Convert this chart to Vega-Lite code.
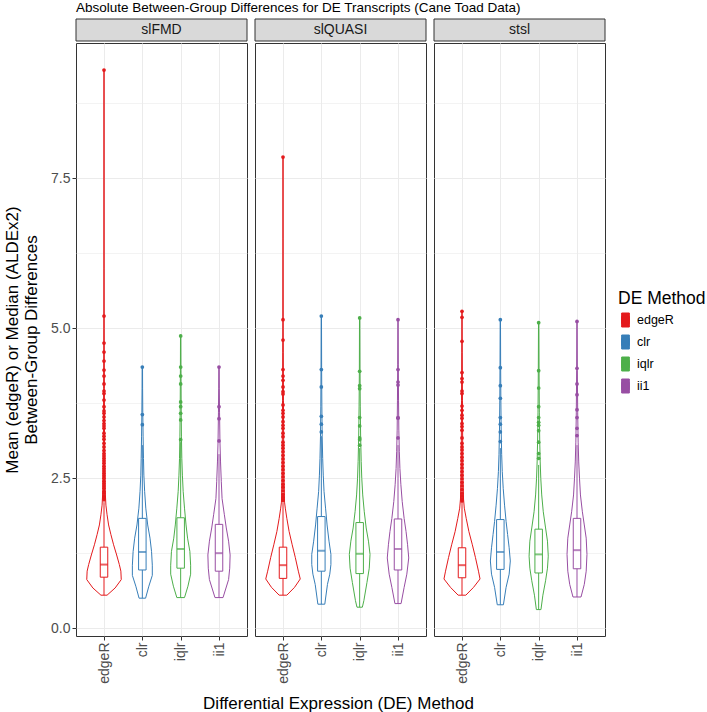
{
"$schema":"https://vega.github.io/schema/vega-lite/v6.json",
"title":{"text":"Absolute Between-Group Differences for DE Transcripts (Cane Toad Data)","anchor":"start","frame":"group","fontSize":13.5,"fontWeight":"normal","color":"#000000","offset":4},
"padding":{"left":3,"top":1,"right":5,"bottom":0},
"datasets":{
"vio":[
{"p":"slFMD","m":"edgeR","v":0.55,"w":0.08},{"p":"slFMD","m":"edgeR","v":0.67,"w":0.29},{"p":"slFMD","m":"edgeR","v":0.81,"w":0.45},{"p":"slFMD","m":"edgeR","v":0.95,"w":0.44},{"p":"slFMD","m":"edgeR","v":1.06,"w":0.40},{"p":"slFMD","m":"edgeR","v":1.22,"w":0.33},{"p":"slFMD","m":"edgeR","v":1.39,"w":0.25},{"p":"slFMD","m":"edgeR","v":1.56,"w":0.18},{"p":"slFMD","m":"edgeR","v":1.72,"w":0.12},{"p":"slFMD","m":"edgeR","v":1.89,"w":0.08},{"p":"slFMD","m":"edgeR","v":2.05,"w":0.05},{"p":"slFMD","m":"edgeR","v":2.3,"w":0.03},{"p":"slFMD","m":"edgeR","v":2.7,"w":0.02},{"p":"slFMD","m":"edgeR","v":3.2,"w":0.014},{"p":"slFMD","m":"edgeR","v":4.0,"w":0.01},{"p":"slFMD","m":"edgeR","v":5.0,"w":0.006},{"p":"slFMD","m":"edgeR","v":6.0,"w":0.003},{"p":"slFMD","m":"edgeR","v":7.5,"w":0.002},{"p":"slFMD","m":"edgeR","v":9.3,"w":0.002},
{"p":"slFMD","m":"clr","v":0.50,"w":0.085},{"p":"slFMD","m":"clr","v":0.7,"w":0.17},{"p":"slFMD","m":"clr","v":0.88,"w":0.26},{"p":"slFMD","m":"clr","v":1.05,"w":0.26},{"p":"slFMD","m":"clr","v":1.28,"w":0.24},{"p":"slFMD","m":"clr","v":1.5,"w":0.20},{"p":"slFMD","m":"clr","v":1.72,"w":0.14},{"p":"slFMD","m":"clr","v":2.0,"w":0.09},{"p":"slFMD","m":"clr","v":2.28,"w":0.06},{"p":"slFMD","m":"clr","v":2.55,"w":0.04},{"p":"slFMD","m":"clr","v":2.83,"w":0.03},{"p":"slFMD","m":"clr","v":3.2,"w":0.02},{"p":"slFMD","m":"clr","v":3.6,"w":0.012},{"p":"slFMD","m":"clr","v":4.0,"w":0.007},{"p":"slFMD","m":"clr","v":4.35,"w":0.005},
{"p":"slFMD","m":"iqlr","v":0.51,"w":0.10},{"p":"slFMD","m":"iqlr","v":0.7,"w":0.19},{"p":"slFMD","m":"iqlr","v":0.9,"w":0.26},{"p":"slFMD","m":"iqlr","v":1.05,"w":0.26},{"p":"slFMD","m":"iqlr","v":1.28,"w":0.24},{"p":"slFMD","m":"iqlr","v":1.5,"w":0.18},{"p":"slFMD","m":"iqlr","v":1.72,"w":0.14},{"p":"slFMD","m":"iqlr","v":2.0,"w":0.10},{"p":"slFMD","m":"iqlr","v":2.28,"w":0.065},{"p":"slFMD","m":"iqlr","v":2.55,"w":0.045},{"p":"slFMD","m":"iqlr","v":2.83,"w":0.03},{"p":"slFMD","m":"iqlr","v":3.2,"w":0.02},{"p":"slFMD","m":"iqlr","v":3.7,"w":0.012},{"p":"slFMD","m":"iqlr","v":4.3,"w":0.007},{"p":"slFMD","m":"iqlr","v":4.87,"w":0.004},
{"p":"slFMD","m":"ii1","v":0.51,"w":0.105},{"p":"slFMD","m":"ii1","v":0.81,"w":0.25},{"p":"slFMD","m":"ii1","v":1.0,"w":0.28},{"p":"slFMD","m":"ii1","v":1.22,"w":0.29},{"p":"slFMD","m":"ii1","v":1.45,"w":0.25},{"p":"slFMD","m":"ii1","v":1.67,"w":0.19},{"p":"slFMD","m":"ii1","v":1.89,"w":0.14},{"p":"slFMD","m":"ii1","v":2.16,"w":0.08},{"p":"slFMD","m":"ii1","v":2.44,"w":0.06},{"p":"slFMD","m":"ii1","v":2.77,"w":0.04},{"p":"slFMD","m":"ii1","v":3.1,"w":0.025},{"p":"slFMD","m":"ii1","v":3.6,"w":0.014},{"p":"slFMD","m":"ii1","v":4.0,"w":0.008},{"p":"slFMD","m":"ii1","v":4.35,"w":0.005},
{"p":"slQUASI","m":"edgeR","v":0.55,"w":0.10},{"p":"slQUASI","m":"edgeR","v":0.68,"w":0.30},{"p":"slQUASI","m":"edgeR","v":0.82,"w":0.45},{"p":"slQUASI","m":"edgeR","v":0.95,"w":0.40},{"p":"slQUASI","m":"edgeR","v":1.18,"w":0.32},{"p":"slQUASI","m":"edgeR","v":1.39,"w":0.24},{"p":"slQUASI","m":"edgeR","v":1.61,"w":0.16},{"p":"slQUASI","m":"edgeR","v":1.83,"w":0.10},{"p":"slQUASI","m":"edgeR","v":2.0,"w":0.06},{"p":"slQUASI","m":"edgeR","v":2.1,"w":0.04},{"p":"slQUASI","m":"edgeR","v":2.5,"w":0.025},{"p":"slQUASI","m":"edgeR","v":3.0,"w":0.018},{"p":"slQUASI","m":"edgeR","v":3.8,"w":0.012},{"p":"slQUASI","m":"edgeR","v":4.6,"w":0.008},{"p":"slQUASI","m":"edgeR","v":5.2,"w":0.005},{"p":"slQUASI","m":"edgeR","v":6.5,"w":0.002},{"p":"slQUASI","m":"edgeR","v":7.85,"w":0.002},
{"p":"slQUASI","m":"clr","v":0.40,"w":0.09},{"p":"slQUASI","m":"clr","v":0.73,"w":0.16},{"p":"slQUASI","m":"clr","v":0.90,"w":0.22},{"p":"slQUASI","m":"clr","v":1.06,"w":0.25},{"p":"slQUASI","m":"clr","v":1.23,"w":0.25},{"p":"slQUASI","m":"clr","v":1.45,"w":0.20},{"p":"slQUASI","m":"clr","v":1.72,"w":0.15},{"p":"slQUASI","m":"clr","v":2.0,"w":0.11},{"p":"slQUASI","m":"clr","v":2.28,"w":0.07},{"p":"slQUASI","m":"clr","v":2.55,"w":0.05},{"p":"slQUASI","m":"clr","v":2.83,"w":0.035},{"p":"slQUASI","m":"clr","v":3.2,"w":0.022},{"p":"slQUASI","m":"clr","v":3.7,"w":0.014},{"p":"slQUASI","m":"clr","v":4.3,"w":0.008},{"p":"slQUASI","m":"clr","v":5.2,"w":0.004},
{"p":"slQUASI","m":"iqlr","v":0.35,"w":0.07},{"p":"slQUASI","m":"iqlr","v":0.46,"w":0.11},{"p":"slQUASI","m":"iqlr","v":0.76,"w":0.19},{"p":"slQUASI","m":"iqlr","v":1.0,"w":0.25},{"p":"slQUASI","m":"iqlr","v":1.23,"w":0.27},{"p":"slQUASI","m":"iqlr","v":1.45,"w":0.23},{"p":"slQUASI","m":"iqlr","v":1.67,"w":0.17},{"p":"slQUASI","m":"iqlr","v":1.94,"w":0.12},{"p":"slQUASI","m":"iqlr","v":2.22,"w":0.08},{"p":"slQUASI","m":"iqlr","v":2.5,"w":0.055},{"p":"slQUASI","m":"iqlr","v":2.78,"w":0.04},{"p":"slQUASI","m":"iqlr","v":3.2,"w":0.025},{"p":"slQUASI","m":"iqlr","v":3.7,"w":0.015},{"p":"slQUASI","m":"iqlr","v":4.3,"w":0.008},{"p":"slQUASI","m":"iqlr","v":5.17,"w":0.004},
{"p":"slQUASI","m":"ii1","v":0.41,"w":0.08},{"p":"slQUASI","m":"ii1","v":0.68,"w":0.16},{"p":"slQUASI","m":"ii1","v":0.90,"w":0.23},{"p":"slQUASI","m":"ii1","v":1.17,"w":0.28},{"p":"slQUASI","m":"ii1","v":1.39,"w":0.25},{"p":"slQUASI","m":"ii1","v":1.61,"w":0.21},{"p":"slQUASI","m":"ii1","v":1.83,"w":0.16},{"p":"slQUASI","m":"ii1","v":2.11,"w":0.11},{"p":"slQUASI","m":"ii1","v":2.39,"w":0.075},{"p":"slQUASI","m":"ii1","v":2.66,"w":0.05},{"p":"slQUASI","m":"ii1","v":2.94,"w":0.035},{"p":"slQUASI","m":"ii1","v":3.3,"w":0.022},{"p":"slQUASI","m":"ii1","v":3.8,"w":0.014},{"p":"slQUASI","m":"ii1","v":4.4,"w":0.008},{"p":"slQUASI","m":"ii1","v":5.14,"w":0.004},
{"p":"stsl","m":"edgeR","v":0.55,"w":0.10},{"p":"stsl","m":"edgeR","v":0.68,"w":0.30},{"p":"stsl","m":"edgeR","v":0.82,"w":0.47},{"p":"stsl","m":"edgeR","v":0.95,"w":0.43},{"p":"stsl","m":"edgeR","v":1.18,"w":0.35},{"p":"stsl","m":"edgeR","v":1.39,"w":0.27},{"p":"stsl","m":"edgeR","v":1.61,"w":0.18},{"p":"stsl","m":"edgeR","v":1.83,"w":0.11},{"p":"stsl","m":"edgeR","v":2.0,"w":0.06},{"p":"stsl","m":"edgeR","v":2.15,"w":0.04},{"p":"stsl","m":"edgeR","v":2.5,"w":0.025},{"p":"stsl","m":"edgeR","v":3.0,"w":0.018},{"p":"stsl","m":"edgeR","v":3.8,"w":0.012},{"p":"stsl","m":"edgeR","v":4.6,"w":0.007},{"p":"stsl","m":"edgeR","v":5.28,"w":0.004},
{"p":"stsl","m":"clr","v":0.39,"w":0.08},{"p":"stsl","m":"clr","v":0.68,"w":0.15},{"p":"stsl","m":"clr","v":0.90,"w":0.23},{"p":"stsl","m":"clr","v":1.12,"w":0.26},{"p":"stsl","m":"clr","v":1.34,"w":0.23},{"p":"stsl","m":"clr","v":1.56,"w":0.19},{"p":"stsl","m":"clr","v":1.78,"w":0.15},{"p":"stsl","m":"clr","v":2.05,"w":0.11},{"p":"stsl","m":"clr","v":2.33,"w":0.075},{"p":"stsl","m":"clr","v":2.61,"w":0.05},{"p":"stsl","m":"clr","v":2.89,"w":0.035},{"p":"stsl","m":"clr","v":3.3,"w":0.022},{"p":"stsl","m":"clr","v":3.8,"w":0.014},{"p":"stsl","m":"clr","v":4.4,"w":0.008},{"p":"stsl","m":"clr","v":5.14,"w":0.004},
{"p":"stsl","m":"iqlr","v":0.31,"w":0.06},{"p":"stsl","m":"iqlr","v":0.55,"w":0.11},{"p":"stsl","m":"iqlr","v":0.79,"w":0.18},{"p":"stsl","m":"iqlr","v":1.0,"w":0.23},{"p":"stsl","m":"iqlr","v":1.2,"w":0.25},{"p":"stsl","m":"iqlr","v":1.45,"w":0.23},{"p":"stsl","m":"iqlr","v":1.67,"w":0.18},{"p":"stsl","m":"iqlr","v":1.94,"w":0.12},{"p":"stsl","m":"iqlr","v":2.22,"w":0.08},{"p":"stsl","m":"iqlr","v":2.5,"w":0.055},{"p":"stsl","m":"iqlr","v":2.77,"w":0.04},{"p":"stsl","m":"iqlr","v":3.1,"w":0.028},{"p":"stsl","m":"iqlr","v":3.6,"w":0.017},{"p":"stsl","m":"iqlr","v":4.3,"w":0.009},{"p":"stsl","m":"iqlr","v":5.09,"w":0.004},
{"p":"stsl","m":"ii1","v":0.52,"w":0.105},{"p":"stsl","m":"ii1","v":0.73,"w":0.19},{"p":"stsl","m":"ii1","v":0.95,"w":0.24},{"p":"stsl","m":"ii1","v":1.23,"w":0.26},{"p":"stsl","m":"ii1","v":1.5,"w":0.24},{"p":"stsl","m":"ii1","v":1.72,"w":0.19},{"p":"stsl","m":"ii1","v":1.94,"w":0.14},{"p":"stsl","m":"ii1","v":2.22,"w":0.09},{"p":"stsl","m":"ii1","v":2.5,"w":0.065},{"p":"stsl","m":"ii1","v":2.77,"w":0.045},{"p":"stsl","m":"ii1","v":3.1,"w":0.03},{"p":"stsl","m":"ii1","v":3.6,"w":0.018},{"p":"stsl","m":"ii1","v":4.3,"w":0.009},{"p":"stsl","m":"ii1","v":5.11,"w":0.004}
],
"box":[
{"p":"slFMD","m":"edgeR","lo":0.55,"q1":0.85,"med":1.06,"q3":1.35,"hi":2.1},
{"p":"slFMD","m":"clr","lo":0.50,"q1":0.97,"med":1.27,"q3":1.83,"hi":3.05},
{"p":"slFMD","m":"iqlr","lo":0.51,"q1":1.00,"med":1.32,"q3":1.84,"hi":3.1},
{"p":"slFMD","m":"ii1","lo":0.51,"q1":0.95,"med":1.25,"q3":1.73,"hi":2.9},
{"p":"slQUASI","m":"edgeR","lo":0.55,"q1":0.83,"med":1.05,"q3":1.35,"hi":2.1},
{"p":"slQUASI","m":"clr","lo":0.40,"q1":0.95,"med":1.29,"q3":1.86,"hi":3.2},
{"p":"slQUASI","m":"iqlr","lo":0.35,"q1":0.91,"med":1.24,"q3":1.76,"hi":3.0},
{"p":"slQUASI","m":"ii1","lo":0.41,"q1":0.97,"med":1.32,"q3":1.82,"hi":3.05},
{"p":"stsl","m":"edgeR","lo":0.55,"q1":0.84,"med":1.05,"q3":1.34,"hi":2.1},
{"p":"stsl","m":"clr","lo":0.39,"q1":0.98,"med":1.27,"q3":1.81,"hi":3.0},
{"p":"stsl","m":"iqlr","lo":0.31,"q1":0.92,"med":1.23,"q3":1.65,"hi":2.72},
{"p":"stsl","m":"ii1","lo":0.52,"q1":0.99,"med":1.30,"q3":1.83,"hi":3.05}
],
"out":[
{"p":"slFMD","m":"edgeR","v":9.3},{"p":"slFMD","m":"edgeR","v":5.2},{"p":"slFMD","m":"edgeR","v":4.75},{"p":"slFMD","m":"edgeR","v":4.6},{"p":"slFMD","m":"edgeR","v":4.45},{"p":"slFMD","m":"edgeR","v":4.3},{"p":"slFMD","m":"edgeR","v":4.2},{"p":"slFMD","m":"edgeR","v":4.07},{"p":"slFMD","m":"edgeR","v":3.95},{"p":"slFMD","m":"edgeR","v":3.91},{"p":"slFMD","m":"edgeR","v":3.8},{"p":"slFMD","m":"edgeR","v":3.69},{"p":"slFMD","m":"edgeR","v":3.62},{"p":"slFMD","m":"edgeR","v":3.58},{"p":"slFMD","m":"edgeR","v":3.52},{"p":"slFMD","m":"edgeR","v":3.46},{"p":"slFMD","m":"edgeR","v":3.41},{"p":"slFMD","m":"edgeR","v":3.37},{"p":"slFMD","m":"edgeR","v":3.33},{"p":"slFMD","m":"edgeR","v":3.25},{"p":"slFMD","m":"edgeR","v":3.2},{"p":"slFMD","m":"edgeR","v":3.15},{"p":"slFMD","m":"edgeR","v":3.08},{"p":"slFMD","m":"edgeR","v":3.02},{"p":"slFMD","m":"edgeR","v":2.96},{"p":"slFMD","m":"edgeR","v":2.91},{"p":"slFMD","m":"edgeR","v":2.87},{"p":"slFMD","m":"edgeR","v":2.83},{"p":"slFMD","m":"edgeR","v":2.79},{"p":"slFMD","m":"edgeR","v":2.75},{"p":"slFMD","m":"edgeR","v":2.7},{"p":"slFMD","m":"edgeR","v":2.66},{"p":"slFMD","m":"edgeR","v":2.62},{"p":"slFMD","m":"edgeR","v":2.58},{"p":"slFMD","m":"edgeR","v":2.54},{"p":"slFMD","m":"edgeR","v":2.5},{"p":"slFMD","m":"edgeR","v":2.45},{"p":"slFMD","m":"edgeR","v":2.41},{"p":"slFMD","m":"edgeR","v":2.37},{"p":"slFMD","m":"edgeR","v":2.33},{"p":"slFMD","m":"edgeR","v":2.28},{"p":"slFMD","m":"edgeR","v":2.25},{"p":"slFMD","m":"edgeR","v":2.2},{"p":"slFMD","m":"edgeR","v":2.17},{"p":"slFMD","m":"edgeR","v":2.14},
{"p":"slFMD","m":"clr","v":4.35},{"p":"slFMD","m":"clr","v":3.56},{"p":"slFMD","m":"clr","v":3.39},
{"p":"slFMD","m":"iqlr","v":4.87},{"p":"slFMD","m":"iqlr","v":4.35},{"p":"slFMD","m":"iqlr","v":4.2},{"p":"slFMD","m":"iqlr","v":4.07},{"p":"slFMD","m":"iqlr","v":3.77},{"p":"slFMD","m":"iqlr","v":3.69},{"p":"slFMD","m":"iqlr","v":3.58},{"p":"slFMD","m":"iqlr","v":3.47},{"p":"slFMD","m":"iqlr","v":3.14},
{"p":"slFMD","m":"ii1","v":4.35},{"p":"slFMD","m":"ii1","v":3.69},{"p":"slFMD","m":"ii1","v":3.49},{"p":"slFMD","m":"ii1","v":3.12},
{"p":"slQUASI","m":"edgeR","v":7.85},{"p":"slQUASI","m":"edgeR","v":5.14},{"p":"slQUASI","m":"edgeR","v":4.8},{"p":"slQUASI","m":"edgeR","v":4.31},{"p":"slQUASI","m":"edgeR","v":4.2},{"p":"slQUASI","m":"edgeR","v":4.13},{"p":"slQUASI","m":"edgeR","v":4.02},{"p":"slQUASI","m":"edgeR","v":3.94},{"p":"slQUASI","m":"edgeR","v":3.9},{"p":"slQUASI","m":"edgeR","v":3.72},{"p":"slQUASI","m":"edgeR","v":3.63},{"p":"slQUASI","m":"edgeR","v":3.58},{"p":"slQUASI","m":"edgeR","v":3.52},{"p":"slQUASI","m":"edgeR","v":3.44},{"p":"slQUASI","m":"edgeR","v":3.38},{"p":"slQUASI","m":"edgeR","v":3.33},{"p":"slQUASI","m":"edgeR","v":3.25},{"p":"slQUASI","m":"edgeR","v":3.19},{"p":"slQUASI","m":"edgeR","v":3.1},{"p":"slQUASI","m":"edgeR","v":3.05},{"p":"slQUASI","m":"edgeR","v":3.0},{"p":"slQUASI","m":"edgeR","v":2.94},{"p":"slQUASI","m":"edgeR","v":2.88},{"p":"slQUASI","m":"edgeR","v":2.82},{"p":"slQUASI","m":"edgeR","v":2.76},{"p":"slQUASI","m":"edgeR","v":2.7},{"p":"slQUASI","m":"edgeR","v":2.64},{"p":"slQUASI","m":"edgeR","v":2.58},{"p":"slQUASI","m":"edgeR","v":2.52},{"p":"slQUASI","m":"edgeR","v":2.46},{"p":"slQUASI","m":"edgeR","v":2.4},{"p":"slQUASI","m":"edgeR","v":2.35},{"p":"slQUASI","m":"edgeR","v":2.29},{"p":"slQUASI","m":"edgeR","v":2.23},{"p":"slQUASI","m":"edgeR","v":2.18},{"p":"slQUASI","m":"edgeR","v":2.13},
{"p":"slQUASI","m":"clr","v":5.2},{"p":"slQUASI","m":"clr","v":4.31},{"p":"slQUASI","m":"clr","v":4.02},{"p":"slQUASI","m":"clr","v":3.53},{"p":"slQUASI","m":"clr","v":3.4},{"p":"slQUASI","m":"clr","v":3.27},
{"p":"slQUASI","m":"iqlr","v":5.17},{"p":"slQUASI","m":"iqlr","v":4.28},{"p":"slQUASI","m":"iqlr","v":4.04},{"p":"slQUASI","m":"iqlr","v":3.99},{"p":"slQUASI","m":"iqlr","v":3.51},{"p":"slQUASI","m":"iqlr","v":3.37},{"p":"slQUASI","m":"iqlr","v":3.17},{"p":"slQUASI","m":"iqlr","v":3.14},{"p":"slQUASI","m":"iqlr","v":3.05},
{"p":"slQUASI","m":"ii1","v":5.14},{"p":"slQUASI","m":"ii1","v":4.31},{"p":"slQUASI","m":"ii1","v":4.1},{"p":"slQUASI","m":"ii1","v":4.05},{"p":"slQUASI","m":"ii1","v":3.51},{"p":"slQUASI","m":"ii1","v":3.5},{"p":"slQUASI","m":"ii1","v":3.17},
{"p":"stsl","m":"edgeR","v":5.28},{"p":"stsl","m":"edgeR","v":5.18},{"p":"stsl","m":"edgeR","v":4.78},{"p":"stsl","m":"edgeR","v":4.26},{"p":"stsl","m":"edgeR","v":4.16},{"p":"stsl","m":"edgeR","v":4.1},{"p":"stsl","m":"edgeR","v":3.95},{"p":"stsl","m":"edgeR","v":3.91},{"p":"stsl","m":"edgeR","v":3.7},{"p":"stsl","m":"edgeR","v":3.63},{"p":"stsl","m":"edgeR","v":3.55},{"p":"stsl","m":"edgeR","v":3.5},{"p":"stsl","m":"edgeR","v":3.41},{"p":"stsl","m":"edgeR","v":3.36},{"p":"stsl","m":"edgeR","v":3.3},{"p":"stsl","m":"edgeR","v":3.17},{"p":"stsl","m":"edgeR","v":3.08},{"p":"stsl","m":"edgeR","v":3.02},{"p":"stsl","m":"edgeR","v":2.97},{"p":"stsl","m":"edgeR","v":2.91},{"p":"stsl","m":"edgeR","v":2.85},{"p":"stsl","m":"edgeR","v":2.79},{"p":"stsl","m":"edgeR","v":2.73},{"p":"stsl","m":"edgeR","v":2.67},{"p":"stsl","m":"edgeR","v":2.61},{"p":"stsl","m":"edgeR","v":2.55},{"p":"stsl","m":"edgeR","v":2.49},{"p":"stsl","m":"edgeR","v":2.43},{"p":"stsl","m":"edgeR","v":2.37},{"p":"stsl","m":"edgeR","v":2.31},{"p":"stsl","m":"edgeR","v":2.25},{"p":"stsl","m":"edgeR","v":2.2},{"p":"stsl","m":"edgeR","v":2.15},{"p":"stsl","m":"edgeR","v":2.12},
{"p":"stsl","m":"clr","v":5.14},{"p":"stsl","m":"clr","v":4.34},{"p":"stsl","m":"clr","v":4.04},{"p":"stsl","m":"clr","v":3.83},{"p":"stsl","m":"clr","v":3.51},{"p":"stsl","m":"clr","v":3.4},{"p":"stsl","m":"clr","v":3.27},{"p":"stsl","m":"clr","v":3.11},
{"p":"stsl","m":"iqlr","v":5.09},{"p":"stsl","m":"iqlr","v":4.29},{"p":"stsl","m":"iqlr","v":4.0},{"p":"stsl","m":"iqlr","v":3.69},{"p":"stsl","m":"iqlr","v":3.51},{"p":"stsl","m":"iqlr","v":3.43},{"p":"stsl","m":"iqlr","v":3.38},{"p":"stsl","m":"iqlr","v":3.29},{"p":"stsl","m":"iqlr","v":3.1},{"p":"stsl","m":"iqlr","v":2.91},{"p":"stsl","m":"iqlr","v":2.83},
{"p":"stsl","m":"ii1","v":5.11},{"p":"stsl","m":"ii1","v":4.33},{"p":"stsl","m":"ii1","v":4.07},{"p":"stsl","m":"ii1","v":3.89},{"p":"stsl","m":"ii1","v":3.64},{"p":"stsl","m":"ii1","v":3.51},{"p":"stsl","m":"ii1","v":3.33},{"p":"stsl","m":"ii1","v":3.21}
]
},
"spacing":10,
"vconcat":[
{"spacing":6,"hconcat":[
{"spacing":0,"vconcat":[
 {"width":171,"height":22,"data":{"values":[{"p":"slFMD"}]},"layer":[
  {"mark":{"type":"rect","fill":"#d9d9d9","stroke":"#333333","strokeWidth":1},"encoding":{}},
  {"mark":{"type":"text","fontSize":14,"color":"#1a1a1a","baseline":"middle"},"encoding":{"text":{"field":"p"}}}]},
 {"width":171,"height":593,"layer":[
  {"data":{"name":"vio"},"transform":[{"filter":"datum.p==='slFMD'"},{"calculate":"indexof(['edgeR','clr','iqlr','ii1'],datum.m)+1","as":"c"},{"calculate":"datum.c-datum.w","as":"lo"},{"calculate":"datum.c+datum.w","as":"hi"}],
   "mark":{"type":"area","orient":"horizontal","fill":"white","strokeWidth":1},
   "encoding":{"y":{"field":"v","type":"quantitative","scale":{"domain":[-0.13,9.75],"nice":false,"zero":false},"axis":{"values":[0,1.25,2.5,3.75,5,6.25,7.5,8.75],"labelExpr":"datum.value % 2.5 === 0 ? format(datum.value,'.1f') : ''","tickOpacity":{"condition":{"test":"datum.value % 2.5 !== 0","value":0},"value":1},"gridWidth":{"condition":{"test":"datum.value % 2.5 !== 0","value":0.6},"value":1.1},"titlePadding":10,"title":["Mean (edgeR) or Median (ALDEx2)","Between-Group Differences"]}},
    "x":{"field":"lo","type":"quantitative","scale":{"domain":[0.4,4.6],"nice":false,"zero":false},"axis":{"values":[1,2,3,4],"labelExpr":"['','edgeR','clr','iqlr','ii1'][datum.value]","labelAngle":270,"title":null}},
    "x2":{"field":"hi"},
    "stroke":{"field":"m","type":"nominal","scale":{"domain":["edgeR","clr","iqlr","ii1"],"range":["#E41A1C","#377EB8","#4DAF4A","#984EA3"]},"legend":{"title":"DE Method","orient":"none","legendX":542,"legendY":271,"symbolFillColor":"white"}}}},
  {"data":{"name":"box"},"transform":[{"filter":"datum.p==='slFMD'"},{"calculate":"indexof(['edgeR','clr','iqlr','ii1'],datum.m)+1","as":"c"}],
   "mark":{"type":"rule","strokeWidth":1},
   "encoding":{"x":{"field":"c","type":"quantitative","scale":{"domain":[0.4,4.6],"nice":false,"zero":false}},"y":{"field":"lo","type":"quantitative","scale":{"domain":[-0.13,9.75],"nice":false,"zero":false}},"y2":{"field":"q1"},"color":{"field":"m","type":"nominal","scale":{"domain":["edgeR","clr","iqlr","ii1"],"range":["#E41A1C","#377EB8","#4DAF4A","#984EA3"]},"legend":null}}},
  {"data":{"name":"box"},"transform":[{"filter":"datum.p==='slFMD'"},{"calculate":"indexof(['edgeR','clr','iqlr','ii1'],datum.m)+1","as":"c"}],
   "mark":{"type":"rule","strokeWidth":1},
   "encoding":{"x":{"field":"c","type":"quantitative","scale":{"domain":[0.4,4.6],"nice":false,"zero":false}},"y":{"field":"q3","type":"quantitative","scale":{"domain":[-0.13,9.75],"nice":false,"zero":false}},"y2":{"field":"hi"},"color":{"field":"m","type":"nominal","scale":{"domain":["edgeR","clr","iqlr","ii1"],"range":["#E41A1C","#377EB8","#4DAF4A","#984EA3"]},"legend":null}}},
  {"data":{"name":"box"},"transform":[{"filter":"datum.p==='slFMD'"},{"calculate":"indexof(['edgeR','clr','iqlr','ii1'],datum.m)+1","as":"c"}],
   "mark":{"type":"bar","width":7.5,"filled":false,"strokeWidth":1},
   "encoding":{"x":{"field":"c","type":"quantitative","scale":{"domain":[0.4,4.6],"nice":false,"zero":false}},"y":{"field":"q1","type":"quantitative","scale":{"domain":[-0.13,9.75],"nice":false,"zero":false}},"y2":{"field":"q3"},"color":{"field":"m","type":"nominal","scale":{"domain":["edgeR","clr","iqlr","ii1"],"range":["#E41A1C","#377EB8","#4DAF4A","#984EA3"]},"legend":null}}},
  {"data":{"name":"box"},"transform":[{"filter":"datum.p==='slFMD'"},{"calculate":"indexof(['edgeR','clr','iqlr','ii1'],datum.m)+1","as":"c"}],
   "mark":{"type":"tick","orient":"horizontal","size":7.5,"thickness":2},
   "encoding":{"x":{"field":"c","type":"quantitative","scale":{"domain":[0.4,4.6],"nice":false,"zero":false}},"y":{"field":"med","type":"quantitative","scale":{"domain":[-0.13,9.75],"nice":false,"zero":false}},"color":{"field":"m","type":"nominal","scale":{"domain":["edgeR","clr","iqlr","ii1"],"range":["#E41A1C","#377EB8","#4DAF4A","#984EA3"]},"legend":null}}},
  {"data":{"name":"out"},"transform":[{"filter":"datum.p==='slFMD'"},{"calculate":"indexof(['edgeR','clr','iqlr','ii1'],datum.m)+1","as":"c"}],
   "mark":{"type":"circle","size":14,"opacity":1},
   "encoding":{"x":{"field":"c","type":"quantitative","scale":{"domain":[0.4,4.6],"nice":false,"zero":false}},"y":{"field":"v","type":"quantitative","scale":{"domain":[-0.13,9.75],"nice":false,"zero":false}},"color":{"field":"m","type":"nominal","scale":{"domain":["edgeR","clr","iqlr","ii1"],"range":["#E41A1C","#377EB8","#4DAF4A","#984EA3"]},"legend":null}}}
 ]}
]},
{"spacing":0,"vconcat":[
 {"width":171,"height":22,"data":{"values":[{"p":"slQUASI"}]},"layer":[
  {"mark":{"type":"rect","fill":"#d9d9d9","stroke":"#333333","strokeWidth":1},"encoding":{}},
  {"mark":{"type":"text","fontSize":14,"color":"#1a1a1a","baseline":"middle"},"encoding":{"text":{"field":"p"}}}]},
 {"width":171,"height":593,"layer":[
  {"data":{"name":"vio"},"transform":[{"filter":"datum.p==='slQUASI'"},{"calculate":"indexof(['edgeR','clr','iqlr','ii1'],datum.m)+1","as":"c"},{"calculate":"datum.c-datum.w","as":"lo"},{"calculate":"datum.c+datum.w","as":"hi"}],
   "mark":{"type":"area","orient":"horizontal","fill":"white","strokeWidth":1},
   "encoding":{"y":{"field":"v","type":"quantitative","scale":{"domain":[-0.13,9.75],"nice":false,"zero":false},"axis":{"values":[0,1.25,2.5,3.75,5,6.25,7.5,8.75],"labels":false,"ticks":false,"gridWidth":{"condition":{"test":"datum.value % 2.5 !== 0","value":0.6},"value":1.1},"title":null}},
    "x":{"field":"lo","type":"quantitative","scale":{"domain":[0.4,4.6],"nice":false,"zero":false},"axis":{"values":[1,2,3,4],"labelExpr":"['','edgeR','clr','iqlr','ii1'][datum.value]","labelAngle":270,"title":null}},
    "x2":{"field":"hi"},
    "stroke":{"field":"m","type":"nominal","scale":{"domain":["edgeR","clr","iqlr","ii1"],"range":["#E41A1C","#377EB8","#4DAF4A","#984EA3"]},"legend":{"title":"DE Method","orient":"none","legendX":542,"legendY":271,"symbolFillColor":"white"}}}},
  {"data":{"name":"box"},"transform":[{"filter":"datum.p==='slQUASI'"},{"calculate":"indexof(['edgeR','clr','iqlr','ii1'],datum.m)+1","as":"c"}],
   "mark":{"type":"rule","strokeWidth":1},
   "encoding":{"x":{"field":"c","type":"quantitative","scale":{"domain":[0.4,4.6],"nice":false,"zero":false}},"y":{"field":"lo","type":"quantitative","scale":{"domain":[-0.13,9.75],"nice":false,"zero":false}},"y2":{"field":"q1"},"color":{"field":"m","type":"nominal","scale":{"domain":["edgeR","clr","iqlr","ii1"],"range":["#E41A1C","#377EB8","#4DAF4A","#984EA3"]},"legend":null}}},
  {"data":{"name":"box"},"transform":[{"filter":"datum.p==='slQUASI'"},{"calculate":"indexof(['edgeR','clr','iqlr','ii1'],datum.m)+1","as":"c"}],
   "mark":{"type":"rule","strokeWidth":1},
   "encoding":{"x":{"field":"c","type":"quantitative","scale":{"domain":[0.4,4.6],"nice":false,"zero":false}},"y":{"field":"q3","type":"quantitative","scale":{"domain":[-0.13,9.75],"nice":false,"zero":false}},"y2":{"field":"hi"},"color":{"field":"m","type":"nominal","scale":{"domain":["edgeR","clr","iqlr","ii1"],"range":["#E41A1C","#377EB8","#4DAF4A","#984EA3"]},"legend":null}}},
  {"data":{"name":"box"},"transform":[{"filter":"datum.p==='slQUASI'"},{"calculate":"indexof(['edgeR','clr','iqlr','ii1'],datum.m)+1","as":"c"}],
   "mark":{"type":"bar","width":7.5,"filled":false,"strokeWidth":1},
   "encoding":{"x":{"field":"c","type":"quantitative","scale":{"domain":[0.4,4.6],"nice":false,"zero":false}},"y":{"field":"q1","type":"quantitative","scale":{"domain":[-0.13,9.75],"nice":false,"zero":false}},"y2":{"field":"q3"},"color":{"field":"m","type":"nominal","scale":{"domain":["edgeR","clr","iqlr","ii1"],"range":["#E41A1C","#377EB8","#4DAF4A","#984EA3"]},"legend":null}}},
  {"data":{"name":"box"},"transform":[{"filter":"datum.p==='slQUASI'"},{"calculate":"indexof(['edgeR','clr','iqlr','ii1'],datum.m)+1","as":"c"}],
   "mark":{"type":"tick","orient":"horizontal","size":7.5,"thickness":2},
   "encoding":{"x":{"field":"c","type":"quantitative","scale":{"domain":[0.4,4.6],"nice":false,"zero":false}},"y":{"field":"med","type":"quantitative","scale":{"domain":[-0.13,9.75],"nice":false,"zero":false}},"color":{"field":"m","type":"nominal","scale":{"domain":["edgeR","clr","iqlr","ii1"],"range":["#E41A1C","#377EB8","#4DAF4A","#984EA3"]},"legend":null}}},
  {"data":{"name":"out"},"transform":[{"filter":"datum.p==='slQUASI'"},{"calculate":"indexof(['edgeR','clr','iqlr','ii1'],datum.m)+1","as":"c"}],
   "mark":{"type":"circle","size":14,"opacity":1},
   "encoding":{"x":{"field":"c","type":"quantitative","scale":{"domain":[0.4,4.6],"nice":false,"zero":false}},"y":{"field":"v","type":"quantitative","scale":{"domain":[-0.13,9.75],"nice":false,"zero":false}},"color":{"field":"m","type":"nominal","scale":{"domain":["edgeR","clr","iqlr","ii1"],"range":["#E41A1C","#377EB8","#4DAF4A","#984EA3"]},"legend":null}}}
 ]}
]},
{"spacing":0,"vconcat":[
 {"width":171,"height":22,"data":{"values":[{"p":"stsl"}]},"layer":[
  {"mark":{"type":"rect","fill":"#d9d9d9","stroke":"#333333","strokeWidth":1},"encoding":{}},
  {"mark":{"type":"text","fontSize":14,"color":"#1a1a1a","baseline":"middle"},"encoding":{"text":{"field":"p"}}}]},
 {"width":171,"height":593,"layer":[
  {"data":{"name":"vio"},"transform":[{"filter":"datum.p==='stsl'"},{"calculate":"indexof(['edgeR','clr','iqlr','ii1'],datum.m)+1","as":"c"},{"calculate":"datum.c-datum.w","as":"lo"},{"calculate":"datum.c+datum.w","as":"hi"}],
   "mark":{"type":"area","orient":"horizontal","fill":"white","strokeWidth":1},
   "encoding":{"y":{"field":"v","type":"quantitative","scale":{"domain":[-0.13,9.75],"nice":false,"zero":false},"axis":{"values":[0,1.25,2.5,3.75,5,6.25,7.5,8.75],"labels":false,"ticks":false,"gridWidth":{"condition":{"test":"datum.value % 2.5 !== 0","value":0.6},"value":1.1},"title":null}},
    "x":{"field":"lo","type":"quantitative","scale":{"domain":[0.4,4.6],"nice":false,"zero":false},"axis":{"values":[1,2,3,4],"labelExpr":"['','edgeR','clr','iqlr','ii1'][datum.value]","labelAngle":270,"title":null}},
    "x2":{"field":"hi"},
    "stroke":{"field":"m","type":"nominal","scale":{"domain":["edgeR","clr","iqlr","ii1"],"range":["#E41A1C","#377EB8","#4DAF4A","#984EA3"]},"legend":{"title":"DE Method","orient":"none","legendX":542,"legendY":271,"symbolFillColor":"white"}}}},
  {"data":{"name":"box"},"transform":[{"filter":"datum.p==='stsl'"},{"calculate":"indexof(['edgeR','clr','iqlr','ii1'],datum.m)+1","as":"c"}],
   "mark":{"type":"rule","strokeWidth":1},
   "encoding":{"x":{"field":"c","type":"quantitative","scale":{"domain":[0.4,4.6],"nice":false,"zero":false}},"y":{"field":"lo","type":"quantitative","scale":{"domain":[-0.13,9.75],"nice":false,"zero":false}},"y2":{"field":"q1"},"color":{"field":"m","type":"nominal","scale":{"domain":["edgeR","clr","iqlr","ii1"],"range":["#E41A1C","#377EB8","#4DAF4A","#984EA3"]},"legend":null}}},
  {"data":{"name":"box"},"transform":[{"filter":"datum.p==='stsl'"},{"calculate":"indexof(['edgeR','clr','iqlr','ii1'],datum.m)+1","as":"c"}],
   "mark":{"type":"rule","strokeWidth":1},
   "encoding":{"x":{"field":"c","type":"quantitative","scale":{"domain":[0.4,4.6],"nice":false,"zero":false}},"y":{"field":"q3","type":"quantitative","scale":{"domain":[-0.13,9.75],"nice":false,"zero":false}},"y2":{"field":"hi"},"color":{"field":"m","type":"nominal","scale":{"domain":["edgeR","clr","iqlr","ii1"],"range":["#E41A1C","#377EB8","#4DAF4A","#984EA3"]},"legend":null}}},
  {"data":{"name":"box"},"transform":[{"filter":"datum.p==='stsl'"},{"calculate":"indexof(['edgeR','clr','iqlr','ii1'],datum.m)+1","as":"c"}],
   "mark":{"type":"bar","width":7.5,"filled":false,"strokeWidth":1},
   "encoding":{"x":{"field":"c","type":"quantitative","scale":{"domain":[0.4,4.6],"nice":false,"zero":false}},"y":{"field":"q1","type":"quantitative","scale":{"domain":[-0.13,9.75],"nice":false,"zero":false}},"y2":{"field":"q3"},"color":{"field":"m","type":"nominal","scale":{"domain":["edgeR","clr","iqlr","ii1"],"range":["#E41A1C","#377EB8","#4DAF4A","#984EA3"]},"legend":null}}},
  {"data":{"name":"box"},"transform":[{"filter":"datum.p==='stsl'"},{"calculate":"indexof(['edgeR','clr','iqlr','ii1'],datum.m)+1","as":"c"}],
   "mark":{"type":"tick","orient":"horizontal","size":7.5,"thickness":2},
   "encoding":{"x":{"field":"c","type":"quantitative","scale":{"domain":[0.4,4.6],"nice":false,"zero":false}},"y":{"field":"med","type":"quantitative","scale":{"domain":[-0.13,9.75],"nice":false,"zero":false}},"color":{"field":"m","type":"nominal","scale":{"domain":["edgeR","clr","iqlr","ii1"],"range":["#E41A1C","#377EB8","#4DAF4A","#984EA3"]},"legend":null}}},
  {"data":{"name":"out"},"transform":[{"filter":"datum.p==='stsl'"},{"calculate":"indexof(['edgeR','clr','iqlr','ii1'],datum.m)+1","as":"c"}],
   "mark":{"type":"circle","size":14,"opacity":1},
   "encoding":{"x":{"field":"c","type":"quantitative","scale":{"domain":[0.4,4.6],"nice":false,"zero":false}},"y":{"field":"v","type":"quantitative","scale":{"domain":[-0.13,9.75],"nice":false,"zero":false}},"color":{"field":"m","type":"nominal","scale":{"domain":["edgeR","clr","iqlr","ii1"],"range":["#E41A1C","#377EB8","#4DAF4A","#984EA3"]},"legend":null}}}
 ]}
]}
]},
{"width":525,"height":20,"view":{"stroke":null},"data":{"values":[{"t":"Differential Expression (DE) Method"}]},"mark":{"type":"text","fontSize":17,"color":"#000000","baseline":"middle"},"encoding":{"text":{"field":"t"}}}
],
"config":{
 "font":"Liberation Sans",
 "view":{"stroke":"#333333","strokeWidth":1},
 "axis":{"domain":false,"grid":true,"gridColor":"#ebebeb","tickColor":"#333333","tickSize":4,"labelColor":"#4d4d4d","labelFontSize":14,"labelPadding":2,"titleFontSize":17,"titleFontWeight":"normal","titleColor":"#000000"},
 "legend":{"titleFontSize":17.5,"titleFontWeight":"normal","titleColor":"#000000","labelFontSize":12.5,"labelColor":"#000000","symbolType":"M-0.55,-1H0.55V1H-0.55Z M-0.55,-0.5H0.55V0.5H-0.55Z M-0.55,0H0.55 M0,-1V-0.5 M0,0.5V1","symbolSize":196,"symbolStrokeWidth":1,"symbolFillColor":"white","rowPadding":3}
}
}
